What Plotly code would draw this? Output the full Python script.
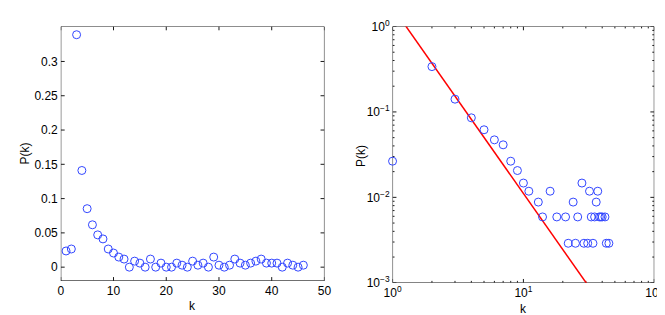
import math
import plotly.graph_objects as go

# Degree distribution P(k), k = 1..46
k = list(range(1, 47))
pk = [0.0236, 0.0265, 0.339, 0.141, 0.0853, 0.0618, 0.0471, 0.0412, 0.0265, 0.0206,
      0.0147, 0.0118, 0.0, 0.0088, 0.0059, 0.0, 0.0118, 0.0, 0.0059, 0.0,
      0.0, 0.0059, 0.0029, 0.0, 0.0088, 0.0029, 0.0059, 0.0, 0.0147, 0.0029,
      0.0, 0.0029, 0.0118, 0.0059, 0.0029, 0.0059, 0.0088, 0.0118, 0.0059, 0.0059,
      0.0059, 0.0, 0.0059, 0.0029, 0.0, 0.0029]

# log-log panel: plotted at k-1, zero values omitted
k_log = [ki - 1 for ki, p in zip(k, pk) if p > 0 and ki > 1]
pk_log = [p for ki, p in zip(k, pk) if p > 0 and ki > 1]

# power-law fit line endpoints
fit_k = [1.0, 40.0]
fit_p = [1.68, 0.00054]

left_xrange = [0, 50]
left_yrange = [-0.02, 0.351]
left_xticks = [0, 10, 20, 30, 40, 50]
left_yticks = [0, 0.05, 0.1, 0.15, 0.2, 0.25, 0.3]
left_yticklabels = ["0", "0.05", "0.1", "0.15", "0.2", "0.25", "0.3"]
log_xrange = [0, 2]
log_yrange = [-3, 0]
log_xticks = [1, 10, 100]
log_xticklabels = ["10<sup>0</sup>", "10<sup>1</sup>", "10<sup>2</sup>"]
log_yticks = [0.001, 0.01, 0.1, 1]
log_yticklabels = ["10<sup>−3</sup>", "10<sup>−2</sup>", "10<sup>−1</sup>", "10<sup>0</sup>"]

W, H = 665, 315
def px(x):
    return x / W
def py(y):
    return 1 - y / H

L_BOX = (45, 316, 10, 278)   # left, right, top, bottom in px
R_BOX = (386, 655, 10, 280)

marker = dict(symbol="circle-open", size=8, color="#3347ff", line=dict(width=1, color="#3347ff"))
frame = dict(color="#1a1a1a", width=1)

fig = go.Figure()


def add_frame(xa, ya, box, xr, yr, xt, yt, xminor, yminor, is_log):
    """Axis box and inside tick marks drawn as line traces in data space."""
    wpx = box[1] - box[0]
    hpx = box[3] - box[2]
    if is_log:
        tx = lambda f: 10 ** f
        fx = lambda v: math.log10(v)
    else:
        tx = lambda f: f
        fx = lambda v: v
    x0, x1 = xr
    y0, y1 = yr
    xs = [tx(x0), tx(x1), tx(x1), tx(x0), tx(x0)]
    ys = [tx(y0), tx(y0), tx(y1), tx(y1), tx(y0)]
    for ticks_x, ticks_y, ln in ((xt, yt, 4), (xminor, yminor, 2)):
        dy = (y1 - y0) * ln / hpx
        dx = (x1 - x0) * ln / wpx
        for v in ticks_x:
            for a, b in ((y0, y0 + dy), (y1 - dy, y1)):
                xs += [None, v, v]
                ys += [None, tx(a), tx(b)]
        for v in ticks_y:
            for a, b in ((x0, x0 + dx), (x1 - dx, x1)):
                xs += [None, tx(a), tx(b)]
                ys += [None, v, v]
    fig.add_trace(go.Scatter(x=xs, y=ys, mode="lines", line=frame, xaxis=xa, yaxis=ya,
                             showlegend=False, hoverinfo="skip", cliponaxis=False,
                             connectgaps=False))


add_frame("x", "y", L_BOX, left_xrange, left_yrange, left_xticks, left_yticks, [], [], False)
minor_x = [m * 10 ** d for d in range(log_xrange[0], log_xrange[1]) for m in range(2, 10)]
minor_y = [m * 10 ** d for d in range(log_yrange[0], log_yrange[1]) for m in range(2, 10)]
add_frame("x2", "y2", R_BOX, log_xrange, log_yrange, log_xticks, log_yticks,
          minor_x, minor_y, True)

fig.add_trace(go.Scatter(x=k, y=pk, mode="markers", marker=marker, xaxis="x", yaxis="y",
                         showlegend=False, cliponaxis=False))
fig.add_trace(go.Scatter(x=fit_k, y=fit_p, mode="lines", line=dict(color="#ff0000", width=1.5),
                         xaxis="x2", yaxis="y2", showlegend=False))
fig.add_trace(go.Scatter(x=k_log, y=pk_log, mode="markers", marker=marker, xaxis="x2", yaxis="y2",
                         showlegend=False, cliponaxis=False))


def axis_common():
    return dict(showline=False, ticks="", showgrid=False, zeroline=False,
                tickfont=dict(size=12, color="black"))


fig.update_layout(
    width=W, height=H,
    margin=dict(l=0, r=0, t=0, b=0),
    paper_bgcolor="white", plot_bgcolor="white",
    font=dict(family="Liberation Sans, Arial, sans-serif", size=12, color="black"),
    xaxis=dict(domain=[px(L_BOX[0]), px(L_BOX[1])], range=left_xrange, tickvals=left_xticks,
               anchor="y", ticklabelstandoff=1, **axis_common()),
    yaxis=dict(domain=[py(L_BOX[3]), py(L_BOX[2])], range=left_yrange, tickvals=left_yticks,
               ticktext=left_yticklabels, anchor="x", ticklabelstandoff=2, **axis_common()),
    xaxis2=dict(domain=[px(R_BOX[0]), px(R_BOX[1])], type="log", range=log_xrange,
                tickvals=log_xticks, ticktext=log_xticklabels, anchor="y2",
                ticklabelstandoff=1, **axis_common()),
    yaxis2=dict(domain=[py(R_BOX[3]), py(R_BOX[2])], type="log", range=log_yrange,
                tickvals=log_yticks, ticktext=log_yticklabels, anchor="x2",
                ticklabelstandoff=2, **axis_common()),
)

# axis titles
titles = [
    ("k", 180, 304, 0),
    ("P(k)", 8, 144, -90),
    ("k", 521, 308, 0),
    ("P(k)", 353, 146, -90),
]
for text, x, y, ang in titles:
    fig.add_annotation(text=text, xref="paper", yref="paper", x=px(x), y=py(y),
                       xanchor="center", yanchor="middle", showarrow=False, textangle=ang,
                       font=dict(size=12, color="black"))

fig.write_html("out.html")
